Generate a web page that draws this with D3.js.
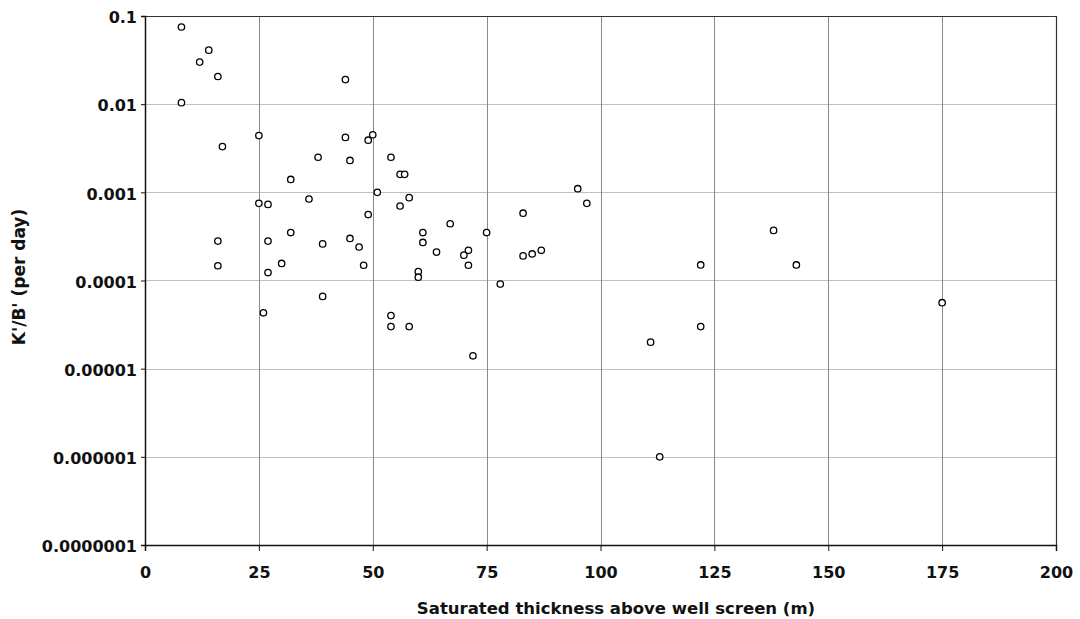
<!DOCTYPE html>
<html>
<head>
<meta charset="utf-8">
<script src="https://cdn.jsdelivr.net/npm/d3@7"></script>
<style>
  body { margin: 0; background: #fff; }
  svg { display: block; font-family: "DejaVu Sans", Verdana, sans-serif; }
</style>
</head>
<body>
<svg id="chart" width="1080" height="619"></svg>
<script>
// saturated thickness (m) and K'/B' (per day)
var thickness = [8, 14, 12, 16, 8, 44, 25, 17, 44, 38, 45, 32, 36, 25, 27, 16,
    27, 32, 39, 45, 47, 16, 30, 27, 39, 26, 50, 49, 54, 56, 57, 51,
    58, 95, 56, 49, 48, 61, 61, 67, 64, 70, 71, 71, 60, 60, 75, 78,
    83, 83, 85, 87, 97, 54, 54, 58, 72, 111, 122, 122, 113, 138, 143, 175];
var leakance = [0.075, 0.041, 0.030, 0.0206, 0.0104, 0.019, 0.0044, 0.0033, 0.0042, 0.0025, 0.0023, 0.0014, 0.00084, 0.00075, 0.00073, 0.00028,
    0.00028, 0.00035, 0.00026, 0.00030, 0.00024, 0.000147, 0.000156, 0.000123, 0.000066, 0.000043, 0.0045, 0.0039, 0.0025, 0.0016, 0.0016, 0.0010,
    0.00087, 0.0011, 0.00070, 0.00056, 0.000149, 0.00035, 0.00027, 0.00044, 0.00021, 0.000194, 0.00022, 0.000149, 0.000126, 0.000109, 0.00035, 0.000091,
    0.00058, 0.00019, 0.0002, 0.00022, 0.00075, 0.00004, 0.00003, 0.00003, 0.000014, 0.00002, 0.00015, 0.00003, 0.000001, 0.00037, 0.00015, 0.000056];

var xTicks = [0, 25, 50, 75, 100, 125, 150, 175, 200];
var yTicks = [0.1, 0.01, 0.001, 0.0001, 0.00001, 0.000001, 0.0000001];
var yTickLabels = ["0.1", "0.01", "0.001", "0.0001", "0.00001", "0.000001", "0.0000001"];

var points = thickness.map(function(t, i){ return { x: t, y: leakance[i] }; });

// plot area (not "top": that name is taken by window.top)
var plotL = 145, plotT = 16, plotR = 1056, plotB = 545;

var svg = d3.select("#chart");

var x = d3.scaleLinear().domain([0, 200]).range([plotL, plotR]);
var y = d3.scaleLog().domain([0.0000001, 0.1]).range([plotB, plotT]);

// grid
svg.append("g")
    .selectAll("line")
    .data(yTicks.slice(1, -1))
    .enter()
    .append("line")
    .attr("x1", plotL).attr("x2", plotR)
    .attr("y1", function(d){ return Math.round(y(d)) + 0.5; })
    .attr("y2", function(d){ return Math.round(y(d)) + 0.5; })
    .attr("stroke", "#c0c0c0")
    .attr("stroke-width", 1)
;
svg.append("g")
    .selectAll("line")
    .data(xTicks.slice(1, -1))
    .enter()
    .append("line")
    .attr("y1", plotT).attr("y2", plotB)
    .attr("x1", function(d){ return Math.round(x(d)) + 0.5; })
    .attr("x2", function(d){ return Math.round(x(d)) + 0.5; })
    .attr("stroke", "#8a8a8a")
    .attr("stroke-width", 1)
;

// frame top / right
svg.append("path")
    .attr("d", "M" + plotL + "," + (plotT + 0.5) + "H" + (plotR + 0.5) + "V" + plotB)
    .attr("fill", "none")
    .attr("stroke", "#333")
    .attr("stroke-width", 1.2)
;

// axes
var xAxis = svg.append("g")
    .attr("transform", "translate(0," + plotB + ")")
    .call(d3.axisBottom(x).tickValues(xTicks).tickSize(6).tickPadding(16).tickFormat(d3.format("d")));
var yAxis = svg.append("g")
    .attr("transform", "translate(" + plotL + ",0)")
    .call(d3.axisLeft(y).tickValues(yTicks).tickSize(4).tickPadding(4)
        .tickFormat(function(d, i){ return yTickLabels[i]; }));

[xAxis, yAxis].forEach(function(a){
    a.select(".domain").attr("stroke", "#111").attr("stroke-width", 1.5);
    a.selectAll(".tick line").attr("stroke", "#111");
    a.selectAll(".tick text")
        .attr("fill", "#111")
        .style("font-family", "'DejaVu Sans', Verdana, sans-serif")
        .style("font-size", "16px")
        .style("font-weight", "bold");
});
yAxis.selectAll(".tick text").attr("dy", "0.42em");

// points
svg.append("g")
    .selectAll("circle")
    .data(points)
    .enter()
    .append("circle")
    .attr("cx", function(d){ return x(d.x); })
    .attr("cy", function(d){ return y(d.y); })
    .attr("r", 3.2)
    .attr("fill", "#fff")
    .attr("stroke", "#000")
    .attr("stroke-width", 1.3)
;

// axis titles
svg.append("text")
    .attr("x", 616)
    .attr("y", 614)
    .attr("text-anchor", "middle")
    .attr("font-size", "16.5px")
    .attr("font-weight", "bold")
    .attr("fill", "#111")
    .text("Saturated thickness above well screen (m)")
;
svg.append("text")
    .attr("transform", "translate(25,277) rotate(-90)")
    .attr("text-anchor", "middle")
    .attr("font-size", "17px")
    .attr("font-weight", "bold")
    .attr("fill", "#111")
    .text("K'/B' (per day)")
;
</script>
</body>
</html>
